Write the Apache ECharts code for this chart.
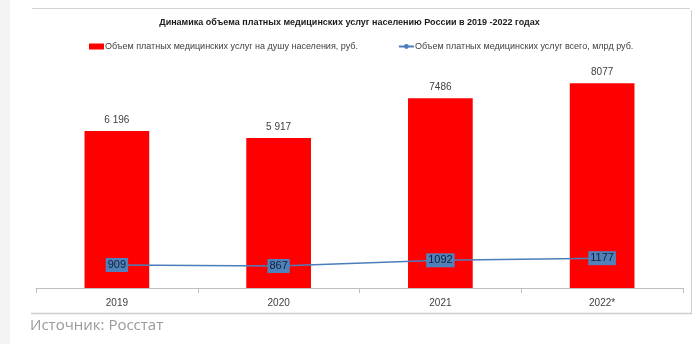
<!DOCTYPE html>
<html>
<head>
<meta charset="utf-8">
<script src="https://cdn.jsdelivr.net/npm/echarts@6/dist/echarts.min.js"></script>
<style>
  html, body { margin: 0; padding: 0; background: #fff; }
  #chart { width: 699px; height: 344px; }
</style>
</head>
<body>
<div id="chart"></div>
<script>
// Years on the category axis
const years = ['2019', '2020', '2021', '2022*'];
// Paid medical services per capita, rubles
const perCapita = [6196, 5917, 7486, 8077];
const perCapitaLabels = ['6 196', '5 917', '7486', '8077'];
// Paid medical services total, billion rubles
const totalBn = [909, 867, 1092, 1177];

const titleText = 'Динамика объема платных медицинских услуг населению России в 2019 -2022 годах';
const barName = 'Объем платных медицинских услуг на душу населения, руб.';
const lineName = 'Объем платных медицинских услуг всего, млрд руб.';
const sourceText = 'Источник: Росстат';

const FONT = '"Liberation Sans", Arial, sans-serif';
const chart = echarts.init(document.getElementById('chart'), null, { renderer: 'canvas' });

chart.setOption({
  animation: false,
  backgroundColor: '#ffffff',
  textStyle: { fontFamily: FONT },
  title: {
    text: titleText,
    left: 'center',
    top: 13,
    textStyle: { fontSize: 9, fontWeight: 'bold', color: '#1a1a1a', fontFamily: FONT }
  },
  legend: {
    top: 37,
    left: 84,
    itemGap: 40,
    itemWidth: 15,
    itemHeight: 6,
    textStyle: { fontSize: 9, color: '#404040', padding: [0, 0, 0, -4] },
    data: [
      { name: barName, icon: 'rect' },
      { name: lineName }
    ]
  },
  grid: { left: 36, right: 16, top: 34.6, bottom: 56 },
  xAxis: {
    type: 'category',
    data: years,
    axisLine: { lineStyle: { color: '#bfbfbf', width: 1 } },
    axisTick: { show: true, length: 5, lineStyle: { color: '#bfbfbf' } },
    axisLabel: { color: '#404040', fontSize: 10, margin: 10 }
  },
  yAxis: {
    type: 'value',
    min: 0,
    max: 10000,
    show: false,
    splitLine: { show: false }
  },
  graphic: [
    { type: 'rect', shape: { x: 0, y: 0, width: 10, height: 344 }, style: { fill: '#f4f4f4' }, silent: true },
    { type: 'line', shape: { x1: 32, y1: 8.5, x2: 690, y2: 8.5 }, style: { stroke: '#d4d4d4', lineWidth: 1 }, silent: true },
    { type: 'line', shape: { x1: 691.5, y1: 10, x2: 691.5, y2: 314 }, style: { stroke: '#cfcfcf', lineWidth: 1 }, silent: true },
    { type: 'line', shape: { x1: 31, y1: 313.5, x2: 692, y2: 313.5 }, style: { stroke: '#cfcfcf', lineWidth: 1.5 }, silent: true },
    { type: 'text', left: 30, top: 318, style: { text: sourceText, fontSize: 15, fill: '#9a9a9a', fontFamily: '"Open Sans", "Noto Sans", sans-serif' }, silent: true }
  ],
  series: [
    {
      name: barName,
      type: 'bar',
      data: perCapita,
      barWidth: '40%',
      itemStyle: { color: '#ff0000' },
      label: {
        show: true,
        position: 'top',
        distance: 6,
        color: '#404040',
        fontSize: 10,
        formatter: p => perCapitaLabels[p.dataIndex]
      }
    },
    {
      name: lineName,
      type: 'line',
      data: totalBn,
      z: 5,
      symbol: 'circle',
      symbolSize: 4,
      lineStyle: { color: '#4a7ebb', width: 1.5 },
      itemStyle: { color: '#4a7ebb' },
      label: {
        show: true,
        position: 'inside',
        backgroundColor: '#4f81bd',
        padding: [2, 2, 1, 2],
        color: '#17202e',
        fontSize: 11
      }
    }
  ]
});
</script>
</body>
</html>
